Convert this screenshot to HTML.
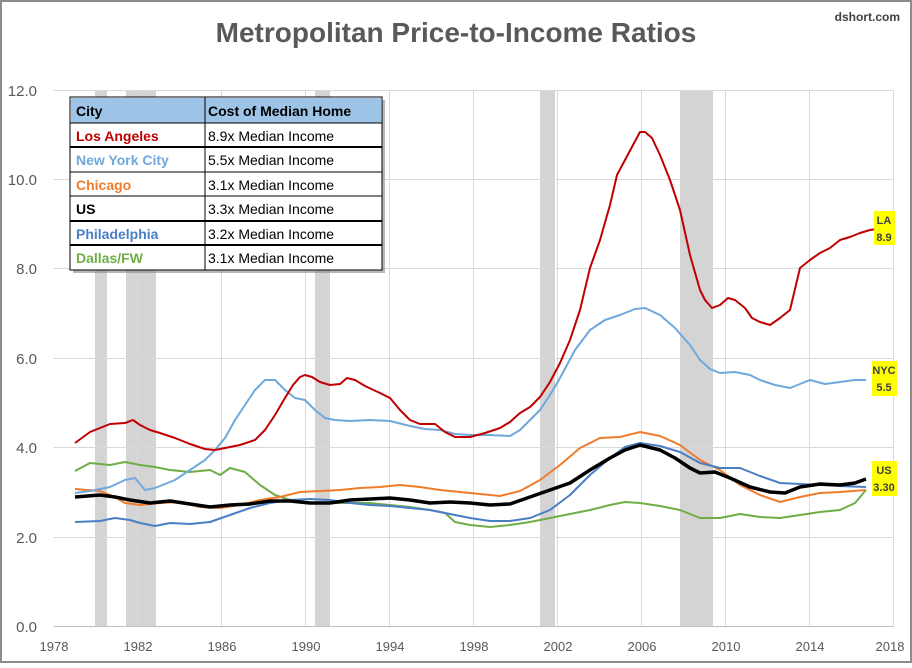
<!DOCTYPE html>
<html><head><meta charset="utf-8"><style>
body{margin:0;width:912px;height:663px;overflow:hidden;background:#fff;font-family:"Liberation Sans",sans-serif}
</style></head><body>
<svg width="912" height="663" xmlns="http://www.w3.org/2000/svg" font-family="Liberation Sans, sans-serif">
<rect x="1" y="1" width="910" height="661" fill="#fff" stroke="#8c8c8c" stroke-width="2"/>
<text x="456" y="42" text-anchor="middle" font-size="28" font-weight="bold" fill="#595959">Metropolitan Price-to-Income Ratios</text>
<text x="900" y="21" text-anchor="end" font-size="12" font-weight="bold" fill="#404040">dshort.com</text>
<g fill="#d4d4d4">
<rect x="95" y="90" width="12" height="536"/><rect x="126" y="90" width="30" height="536"/>
<rect x="315" y="90" width="15" height="536"/><rect x="540" y="90" width="15" height="536"/>
<rect x="680" y="90" width="33" height="536"/></g>
<g stroke="#d9d9d9" stroke-width="1">
<line x1="53.5" y1="90.5" x2="893.5" y2="90.5"/><line x1="53.5" y1="179.5" x2="893.5" y2="179.5"/>
<line x1="53.5" y1="268.5" x2="893.5" y2="268.5"/><line x1="53.5" y1="358.5" x2="893.5" y2="358.5"/>
<line x1="53.5" y1="447.5" x2="893.5" y2="447.5"/><line x1="53.5" y1="537.5" x2="893.5" y2="537.5"/>
<line x1="137.5" y1="90" x2="137.5" y2="626"/><line x1="221.5" y1="90" x2="221.5" y2="626"/>
<line x1="305.5" y1="90" x2="305.5" y2="626"/><line x1="389.5" y1="90" x2="389.5" y2="626"/>
<line x1="473.5" y1="90" x2="473.5" y2="626"/><line x1="557.5" y1="90" x2="557.5" y2="626"/>
<line x1="641.5" y1="90" x2="641.5" y2="626"/><line x1="725.5" y1="90" x2="725.5" y2="626"/>
<line x1="809.5" y1="90" x2="809.5" y2="626"/><line x1="893.5" y1="90" x2="893.5" y2="626"/>
</g>
<line x1="53.5" y1="626.5" x2="893.5" y2="626.5" stroke="#bfbfbf"/>
<g font-size="15" fill="#595959" text-anchor="end">
<text x="37" y="96">12.0</text><text x="37" y="185">10.0</text><text x="37" y="274">8.0</text>
<text x="37" y="364">6.0</text><text x="37" y="453">4.0</text><text x="37" y="543">2.0</text><text x="37" y="632">0.0</text></g>
<g font-size="13" fill="#595959" text-anchor="middle">
<text x="54" y="651">1978</text><text x="138" y="651">1982</text><text x="222" y="651">1986</text><text x="306" y="651">1990</text>
<text x="390" y="651">1994</text><text x="474" y="651">1998</text><text x="558" y="651">2002</text><text x="642" y="651">2006</text>
<text x="726" y="651">2010</text><text x="810" y="651">2014</text><text x="890" y="651">2018</text></g>
<g fill="none" stroke-linejoin="round">
<polyline stroke="#70ad47" stroke-width="2" points="75,471 90,463 110,465 125,462 140,465 155,467 170,470 190,472 210,470 220,475 230,468 245,472 260,485 275,495 290,500 310,503 330,503 350,503 370,503 390,505 410,507 430,510 445,513 455,522 470,525 490,527 510,525 530,522 550,518 570,514 590,510 610,505 625,502 640,503 660,506 680,510 700,518 720,518 740,514 760,517 780,518 800,515 820,512 840,510 855,503 866,490"/>
<polyline stroke="#f07c2b" stroke-width="2" points="75,489 100,491 115,497 125,503 140,505 160,503 180,502 200,507 220,508 240,505 260,500 280,497 300,492 320,491 340,490 360,488 380,487 400,485 420,487 440,490 460,492 480,494 500,496 520,491 540,480 560,465 580,448 600,438 620,437 640,432 660,436 680,445 700,460 720,470 740,485 760,495 780,502 800,497 820,493 840,492 866,490"/>
<polyline stroke="#4a7ec4" stroke-width="2" points="75,522 100,521 115,518 130,520 140,523 155,526 170,523 190,524 210,522 230,515 250,508 270,503 290,500 310,499 330,500 350,503 370,505 390,506 410,508 430,510 450,514 470,518 490,521 510,521 530,518 550,510 570,495 590,475 610,458 625,447 640,443 660,446 680,452 700,463 720,468 740,468 760,476 780,483 800,484 820,485 840,486 866,487"/>
<polyline stroke="#6fa8dc" stroke-width="2" points="75,493 90,491 110,487 125,480 135,478 145,490 155,488 165,484 175,480 190,470 205,460 215,450 225,438 235,420 245,405 255,390 265,380 275,380 285,390 295,398 305,400 315,410 325,418 335,420 350,421 370,420 390,421 410,426 425,429 440,430 455,434 470,435 490,435 510,436 520,430 530,420 540,410 550,395 560,378 575,350 590,330 605,320 620,315 635,309 645,308 660,315 675,328 690,345 700,360 710,369 720,373 735,372 750,375 760,380 775,385 790,388 800,384 810,380 825,384 840,382 855,380 866,380"/>
<polyline stroke="#000" stroke-width="3.5" points="75,497 100,495 115,497 130,500 150,503 170,501 190,504 210,507 230,505 250,504 270,501 290,501 310,503 330,503 350,500 370,499 390,498 410,500 430,503 450,502 470,503 490,505 510,504 530,497 550,490 570,483 590,470 610,458 625,450 640,445 660,450 675,458 690,468 700,473 715,472 730,478 750,487 770,492 785,493 800,487 820,484 840,485 855,483 866,479"/>
<polyline stroke="#c00000" stroke-width="2" points="75,443 90,432 110,424 125,423 133,420 140,425 150,430 160,433 175,438 190,444 205,449 215,450 225,448 240,445 255,440 265,430 275,415 285,398 293,385 300,377 305,375 312,377 320,382 330,385 340,384 347,378 355,380 365,386 380,393 390,398 400,410 410,420 420,424 435,424 445,432 455,437 470,437 485,433 500,428 510,422 520,413 530,407 540,397 550,382 560,363 570,340 580,310 590,268 600,240 610,205 617,175 625,160 633,145 640,132 645,132 652,138 660,155 670,180 680,210 690,255 700,290 705,300 712,308 720,305 728,298 735,300 745,308 752,318 760,322 770,325 780,318 790,310 800,268 810,260 820,253 830,248 840,240 850,237 860,233 870,230 878,229"/>
</g>
<g font-size="11" font-weight="bold" text-anchor="middle" fill="#404040">
<rect x="874" y="211" width="21" height="34" fill="#ffff00"/><text x="884" y="224">LA</text><text x="884" y="241">8.9</text>
<rect x="872" y="361" width="25" height="35" fill="#ffff00"/><text x="884" y="374">NYC</text><text x="884" y="391">5.5</text>
<rect x="872" y="461" width="25" height="35" fill="#ffff00"/><text x="884" y="474">US</text><text x="884" y="491">3.30</text>
</g>
<rect x="73" y="100" width="312" height="173" fill="#888" opacity="0.6"/>
<rect x="70" y="97" width="312" height="173" fill="#fff" stroke="#000"/>
<rect x="71" y="98" width="310" height="25" fill="#9dc3e6"/>
<g stroke="#000"><line x1="70" y1="123" x2="382" y2="123"/><line x1="70" y1="147" x2="382" y2="147" stroke-width="2"/>
<line x1="70" y1="172" x2="382" y2="172"/><line x1="70" y1="196" x2="382" y2="196"/><line x1="70" y1="221" x2="382" y2="221" stroke-width="2"/>
<line x1="70" y1="245" x2="382" y2="245" stroke-width="2"/><line x1="205" y1="97" x2="205" y2="270"/></g>
<g font-size="14" font-weight="bold">
<text x="76" y="116" fill="#000">City</text><text x="208" y="116" fill="#000">Cost of Median Home</text>
<text x="76" y="141" fill="#c00000">Los Angeles</text><text x="76" y="165" fill="#6fa8dc">New York City</text>
<text x="76" y="190" fill="#f07c2b">Chicago</text><text x="76" y="214" fill="#000">US</text>
<text x="76" y="239" fill="#4a7ec4">Philadelphia</text><text x="76" y="263" fill="#70ad47">Dallas/FW</text></g>
<g font-size="14" fill="#000">
<text x="208" y="141">8.9x Median Income</text><text x="208" y="165">5.5x Median Income</text>
<text x="208" y="190">3.1x Median Income</text><text x="208" y="214">3.3x Median Income</text>
<text x="208" y="239">3.2x Median Income</text><text x="208" y="263">3.1x Median Income</text></g>
</svg>
</body></html>
